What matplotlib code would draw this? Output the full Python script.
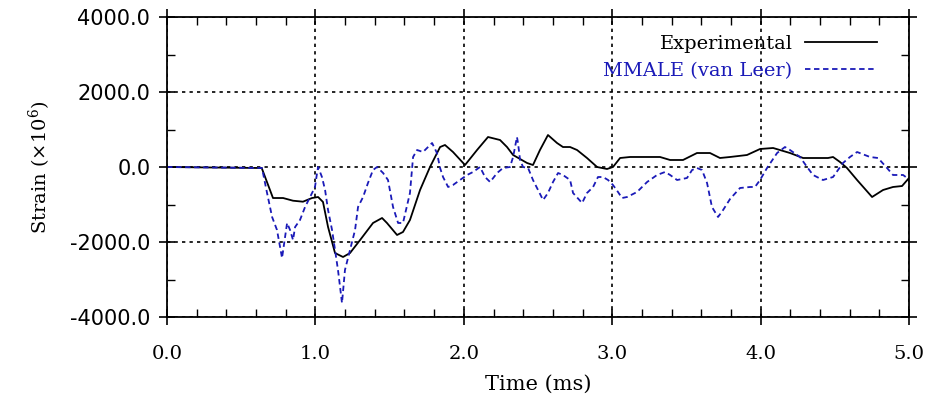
import matplotlib
matplotlib.use('Agg')
import matplotlib.pyplot as plt
import numpy as np
from matplotlib.ticker import MultipleLocator, FormatStrFormatter

plt.rcParams['mathtext.fontset'] = 'custom'
plt.rcParams['mathtext.rm'] = 'DejaVu Serif'

# measured strain gauge record (time in ms, strain in micro-strain)
t_exp = [0.0, 0.638, 0.714, 0.782, 0.849, 0.916, 0.977, 1.018, 1.051, 1.085,
         1.132, 1.186, 1.233, 1.301, 1.388, 1.449, 1.482, 1.550, 1.590, 1.637,
         1.705, 1.772, 1.840, 1.873, 1.927, 2.008, 2.089, 2.163, 2.244, 2.291,
         2.332, 2.426, 2.466, 2.513, 2.567, 2.628, 2.668, 2.716, 2.763, 2.830,
         2.898, 2.965, 3.005, 3.053, 3.120, 3.208, 3.322, 3.390, 3.477, 3.571,
         3.659, 3.726, 3.794, 3.908, 3.996, 4.084, 4.198, 4.286, 4.454, 4.488,
         4.535, 4.582, 4.650, 4.751, 4.825, 4.892, 4.953, 5.0]
s_exp = [0, -27, -827, -827, -899, -925, -827, -800, -933, -1600,
         -2294, -2400, -2294, -1947, -1493, -1360, -1493, -1813, -1733, -1413,
         -613, 0, 533, 587, 400, 53, 453, 800, 720, 533,
         320, 107, 53, 453, 853, 640, 533, 533, 453, 240,
         0, -53, 0, 240, 267, 267, 267, 187, 187, 373,
         373, 240, 267, 320, 480, 507, 373, 240, 240, 267,
         133, -27, -347, -800, -613, -533, -507, -293]

# MMALE simulation with van Leer advection
t_sim = [0.0, 0.640, 0.674, 0.708, 0.741, 0.775, 0.809, 0.829, 0.849, 0.863,
         0.896, 0.930, 0.964, 0.997, 1.011, 1.018, 1.044, 1.065, 1.085, 1.112,
         1.132, 1.152, 1.166, 1.179, 1.199, 1.233, 1.267, 1.287, 1.321, 1.354,
         1.388, 1.415, 1.456, 1.489, 1.523, 1.557, 1.590, 1.637, 1.658, 1.685,
         1.725, 1.786, 1.819, 1.840, 1.860, 1.894, 1.927, 1.974, 2.022, 2.062,
         2.109, 2.143, 2.177, 2.224, 2.264, 2.311, 2.332, 2.358, 2.365, 2.379,
         2.399, 2.433, 2.466, 2.500, 2.534, 2.567, 2.601, 2.635, 2.668, 2.716,
         2.736, 2.797, 2.830, 2.871, 2.904, 2.938, 2.972, 3.005, 3.039, 3.066,
         3.100, 3.167, 3.235, 3.302, 3.356, 3.390, 3.437, 3.504, 3.538, 3.571,
         3.605, 3.639, 3.672, 3.713, 3.747, 3.794, 3.861, 3.929, 3.962, 3.996,
         4.043, 4.111, 4.164, 4.198, 4.265, 4.313, 4.353, 4.420, 4.488, 4.555,
         4.602, 4.650, 4.737, 4.791, 4.852, 4.892, 4.960, 4.987]
s_sim = [0, -27, -693, -1333, -1680, -2427, -1493, -1680, -1947, -1600,
         -1413, -1067, -800, -533, -160, 0, -267, -613, -1147, -1680,
         -2213, -2747, -3200, -3627, -2747, -2213, -1680, -1067, -800, -427,
         -80, 0, -160, -347, -1067, -1493, -1493, -693, 267, 453,
         400, 640, 373, -27, -267, -533, -480, -347, -213, -133,
         0, -267, -400, -160, -27, 0, 267, 800, 640, 187,
         0, -27, -347, -613, -880, -693, -400, -160, -213, -347,
         -693, -960, -693, -533, -267, -267, -347, -480, -667, -827,
         -800, -667, -400, -213, -133, -213, -347, -293, -80, -27,
         -80, -427, -1067, -1333, -1147, -853, -560, -533, -533, -347,
         -27, 373, 533, 453, 267, 0, -213, -347, -267, 107,
         267, 400, 267, 240, -27, -213, -213, -293]

blue = '#1a1ab8'

fig = plt.figure(figsize=(9.29, 4.03), dpi=100)
ax = fig.add_axes([0.1798, 0.2134, 0.7987, 0.7444])

ax.plot(t_exp, s_exp, color='black', lw=1.3, label='Experimental')
ax.plot(t_sim, s_sim, color=blue, lw=1.3, ls=(0, (3, 2)), label='MMALE (van Leer)')

ax.set_xlim(0, 5)
ax.set_ylim(-4000, 4000)
ax.xaxis.set_major_locator(MultipleLocator(1.0))
ax.xaxis.set_minor_locator(MultipleLocator(0.2))
ax.yaxis.set_major_locator(MultipleLocator(2000))
ax.yaxis.set_minor_locator(MultipleLocator(1000))
ax.xaxis.set_major_formatter(FormatStrFormatter('%.1f'))
ax.yaxis.set_major_formatter(FormatStrFormatter('%.1f'))

ax.tick_params(which='major', direction='inout', length=12, width=1.2,
               top=True, right=True)
ax.tick_params(which='minor', direction='in', length=6, width=1.0,
               top=True, right=True)
ax.tick_params(axis='x', which='major', pad=14)
ax.tick_params(axis='y', which='major', pad=6)
for lab in ax.get_xticklabels():
    lab.set_fontfamily('DejaVu Serif')
    lab.set_fontsize(14)
for lab in ax.get_yticklabels():
    lab.set_fontfamily('DejaVu Sans')
    lab.set_fontsize(15)
for sp in ax.spines.values():
    sp.set_linewidth(1.3)

ax.grid(True, which='major', color='black', ls=(0, (2, 2.5)), lw=1.2)

ax.set_xlabel('Time (ms)', fontsize=15, family='DejaVu Serif', labelpad=9)
ax.set_ylabel('Strain (×10$^{6}$)', fontsize=14, family='DejaVu Serif', labelpad=12)

leg = ax.legend(loc='upper right', bbox_to_anchor=(0.957, 0.94), frameon=False,
                markerfirst=False, handlelength=3.7, handletextpad=0.65,
                labelspacing=0.45, borderaxespad=0, borderpad=0,
                prop={'family': 'DejaVu Serif', 'size': 14})
leg.get_texts()[1].set_color(blue)

fig.savefig('out.png', dpi=100)
